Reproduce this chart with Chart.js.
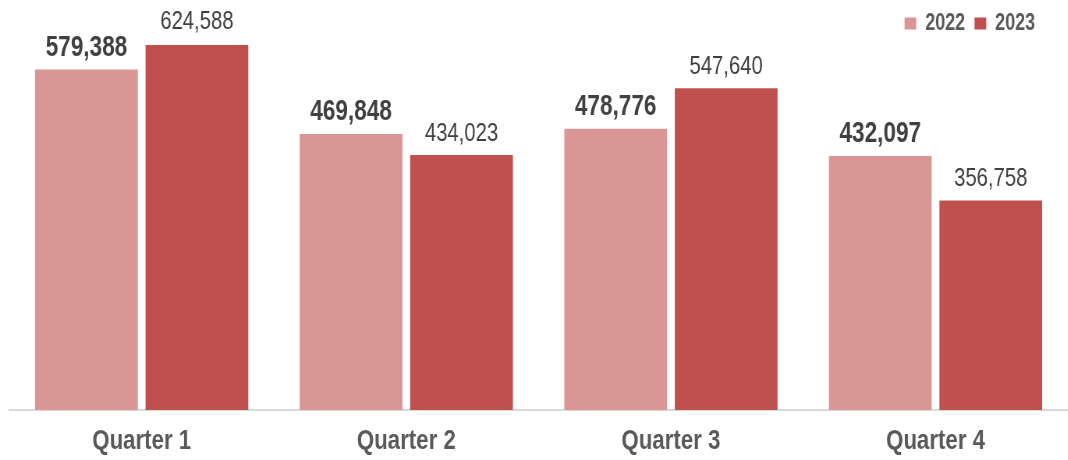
<!DOCTYPE html>
<html>
<head>
<meta charset="utf-8">
<script src="https://cdn.jsdelivr.net/npm/chart.js@4.4.0/dist/chart.umd.min.js"></script>
<style>
  html, body { margin: 0; padding: 0; background: #fff; overflow: hidden; }
  /* the source uses a narrow font, so the chart is drawn wide and squeezed */
  #wrap { width: 1369px; height: 460px; transform: scaleX(0.78); transform-origin: 0 0; }
</style>
</head>
<body>
<div id="wrap"><canvas id="chart"></canvas></div>
<script>
const quarters = ["Quarter 1", "Quarter 2", "Quarter 3", "Quarter 4"];
const years = ["2022", "2023"];
const values2022 = [579388, 469848, 478776, 432097];
const values2023 = [624588, 434023, 547640, 356758];

const FONT = "'Liberation Sans', Arial, sans-serif";

// numbers above the bars, 2022 bold, 2023 regular
const valueLabels = {
    id: 'valueLabels',
    afterLayout(chart) {
        // legend sits a bit in from the right edge
        chart.legend.right -= 30;
    },
    afterDatasetsDraw(chart) {
        const ctx = chart.ctx;
        ctx.save();
        ctx.textAlign = 'center';
        ctx.textBaseline = 'alphabetic';
        ctx.fillStyle = '#404040';
        chart.data.datasets.forEach((ds, i) => {
            const meta = chart.getDatasetMeta(i);
            ctx.font = (i === 0 ? 'bold 29px ' : '26px ') + FONT;
            meta.data.forEach((bar, j) => {
                ctx.fillText(ds.data[j].toLocaleString('en-US'), bar.x, bar.y - 14);
            });
        });
        ctx.restore();
    }
};

new Chart(document.getElementById('chart'), {
    type: 'bar',
    data: {
        labels: quarters,
        datasets: [
            {
                label: years[0],
                data: values2022,
                backgroundColor: '#DA9694',
                categoryPercentage: 0.835,
                barPercentage: 0.93
            },
            {
                label: years[1],
                data: values2023,
                backgroundColor: '#C0504D',
                categoryPercentage: 0.835,
                barPercentage: 0.93
            }
        ]
    },
    options: {
        responsive: true,
        maintainAspectRatio: false,
        animation: false,
        layout: {
            padding: { left: 12, right: 0, top: 0, bottom: 0 }
        },
        plugins: {
            legend: {
                position: 'top',
                align: 'end',
                labels: {
                    boxWidth: 15,
                    boxHeight: 12,
                    padding: 12,
                    color: '#595959',
                    font: { family: FONT, size: 23, weight: 'bold' }
                }
            },
            tooltip: { enabled: false }
        },
        scales: {
            x: {
                afterFit(scale) { scale.height = 50; },
                grid: { display: false, drawTicks: false },
                border: { color: '#D9D9D9', width: 2 },
                ticks: {
                    color: '#595959',
                    padding: 14,
                    font: { family: FONT, size: 28.5, weight: 'bold' }
                }
            },
            y: {
                display: false,
                min: 0,
                max: 621200
            }
        }
    },
    plugins: [valueLabels]
});
</script>
</body>
</html>
